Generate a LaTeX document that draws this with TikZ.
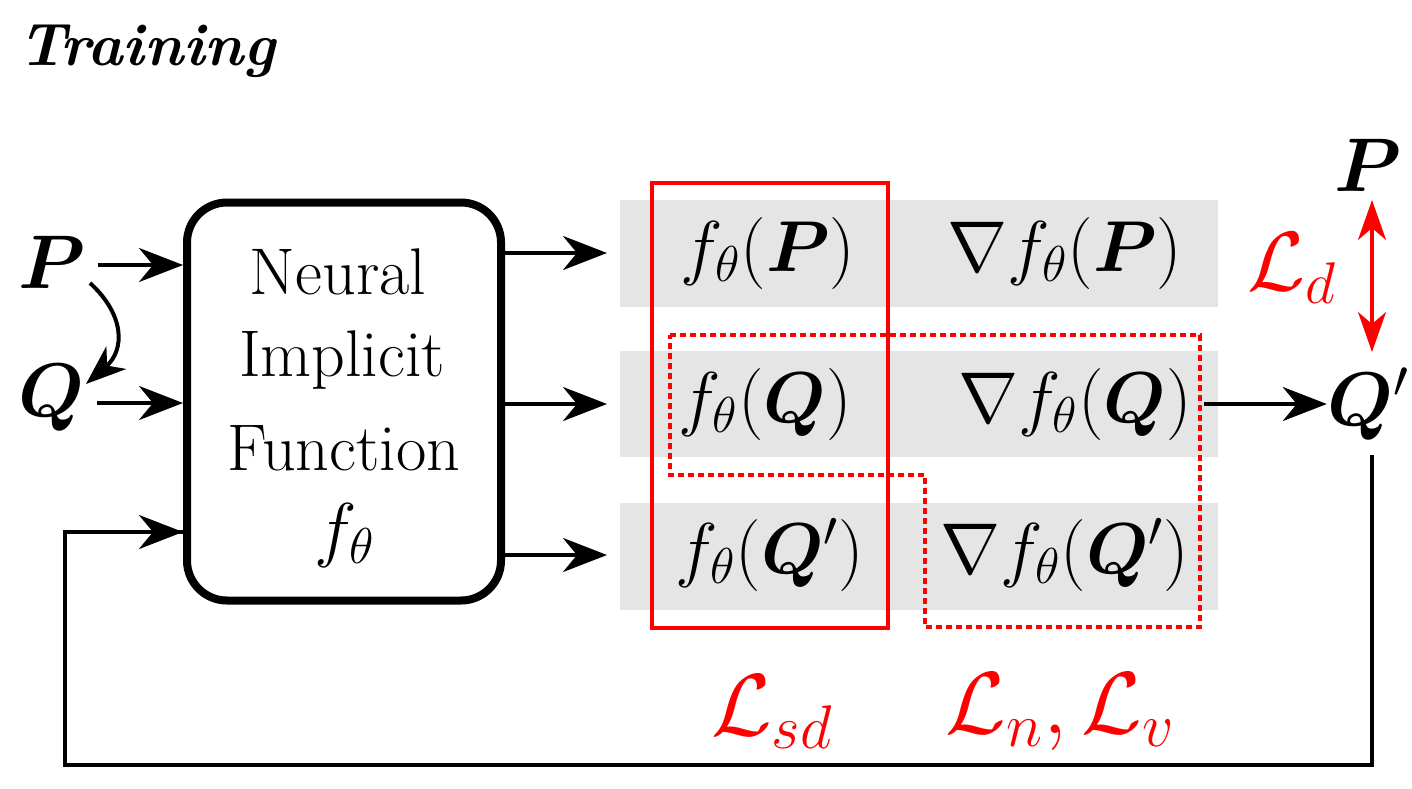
\RequirePackage{fix-cm}
\documentclass[tikz,border=0pt]{standalone}
\usepackage{bm}
\usepackage{fontspec}
\usetikzlibrary{arrows.meta}
\definecolor{bargray}{HTML}{E5E5E5}
\tikzset{
  arr/.style={line width=2pt,-{Stealth[length=22pt,width=17pt,inset=7pt]}},
  redarr/.style={red,line width=1.6pt,{Stealth[length=20pt,width=14pt,inset=6pt]}-{Stealth[length=20pt,width=14pt,inset=6pt]}},
  mathlbl/.style={font=\fontsize{36}{40}\selectfont,inner sep=0pt},
  losslbl/.style={font=\fontsize{44}{48}\selectfont,text=red,inner sep=0pt},
  bar/.style={fill=bargray,draw=none},
  nif/.style={draw,line width=4pt,rounded corners=20pt,minimum width=157pt,minimum height=199pt,inner sep=0pt},
  boxtxt/.style={font=\rmfamily\fontsize{33}{38}\selectfont,inner sep=0pt}
}
\begin{document}
\begin{tikzpicture}[x=0.5pt,y=-0.5pt]
\useasboundingbox (0,0) rectangle (1412,788);
% title
\node[anchor=base west,inner sep=0pt,font=\rmfamily\bfseries\itshape\fontsize{30}{34}\selectfont] (title) at (18,65) {Training};
% gray bars
\fill[bar] (620,200) rectangle (1218,307);
\fill[bar] (620,351) rectangle (1218,457);
\fill[bar] (620,503) rectangle (1218,610);
% inputs
\node[mathlbl,font=\fontsize{38}{42}\selectfont] (P) at (52,262) {$\bm{P}$};
\node[mathlbl,font=\fontsize{38}{42}\selectfont] (Q) at (52,398) {$\bm{Q}$};
% box
\node[nif] (box) at (344,401.5) {};
\node[boxtxt] (t1) at (338,272) {Neural};
\node[boxtxt] (t2) at (342,360) {Implicit};
\node[boxtxt] (t3) at (344,448) {Function};
\node[mathlbl] (t4) at (345,535) {$f_\theta$};
% input arrows
\coordinate (pin) at (183,265);
\coordinate (qin) at (183,403);
\coordinate (fbin) at (183,532);
\draw[arr] (P.east |- pin) ++(12,0) -- (pin);
\draw[arr] (Q.east |- qin) ++(12,0) -- (qin);
\coordinate (cs) at (90,283);
\coordinate (ce) at (86,384);
\draw[line width=2pt,-{Stealth[length=20pt,width=15pt,inset=6pt]}] (cs) .. controls (125,315) and (125,350) .. (ce);
% outputs
\node[mathlbl] (fP) at (768,253) {$f_\theta(\bm{P})$};
\node[mathlbl] (gP) at (1065,253) {$\nabla f_\theta(\bm{P})$};
\node[mathlbl] (fQ) at (765,404) {$f_\theta(\bm{Q})$};
\node[mathlbl] (gQ) at (1075,404) {$\nabla f_\theta(\bm{Q})$};
\node[mathlbl] (fQp) at (770,555) {$f_\theta(\bm{Q}')$};
\node[mathlbl] (gQp) at (1065,555) {$\nabla f_\theta(\bm{Q}')$};
\coordinate (o1) at (607,253);
\coordinate (o2) at (607,404);
\coordinate (o3) at (607,555);
\draw[arr] (box.east |- o1) -- (o1);
\draw[arr] (box.east |- o2) -- (o2);
\draw[arr] (box.east |- o3) -- (o3);
% right side
\node[mathlbl,font=\fontsize{38}{42}\selectfont] (Qp) at (1368,404) {$\bm{Q}'$};
\node[mathlbl,font=\fontsize{38}{42}\selectfont] (P2) at (1368,165) {$\bm{P}$};
\node[losslbl,font=\fontsize{42}{46}\selectfont] (Ld) at (1292,268) {$\mathcal{L}_d$};
\draw[arr] (gQ.east) ++(12,0) -- (Qp.west);
\coordinate (da) at (1372,200);
\coordinate (db) at (1372,352);
\draw[redarr] (da) -- (db);
% feedback
\coordinate (fb1) at (1372,455);
\coordinate (fb2) at (1372,765);
\coordinate (fb3) at (65,765);
\draw[line width=2pt] (fb1) -- (fb2) -- (fb3) -- (fb3 |- fbin) -- (fbin);
\draw[arr] (fb3 |- fbin) -- (fbin);
% red boxes
\draw[red,line width=2pt] (652,183) rectangle (888,628);
\draw[red,line width=1.8pt,dash pattern=on 3pt off 2pt] (670,335) -- (1200,335) -- (1200,627) -- (925,627) -- (925,475) -- (670,475) -- cycle;
% loss labels
\node[losslbl] (Lsd) at (772,712) {$\mathcal{L}_{sd}$};
\node[losslbl] (Lnv) at (1060,712) {$\mathcal{L}_n,\mathcal{L}_v$};
\end{tikzpicture}
\end{document}
